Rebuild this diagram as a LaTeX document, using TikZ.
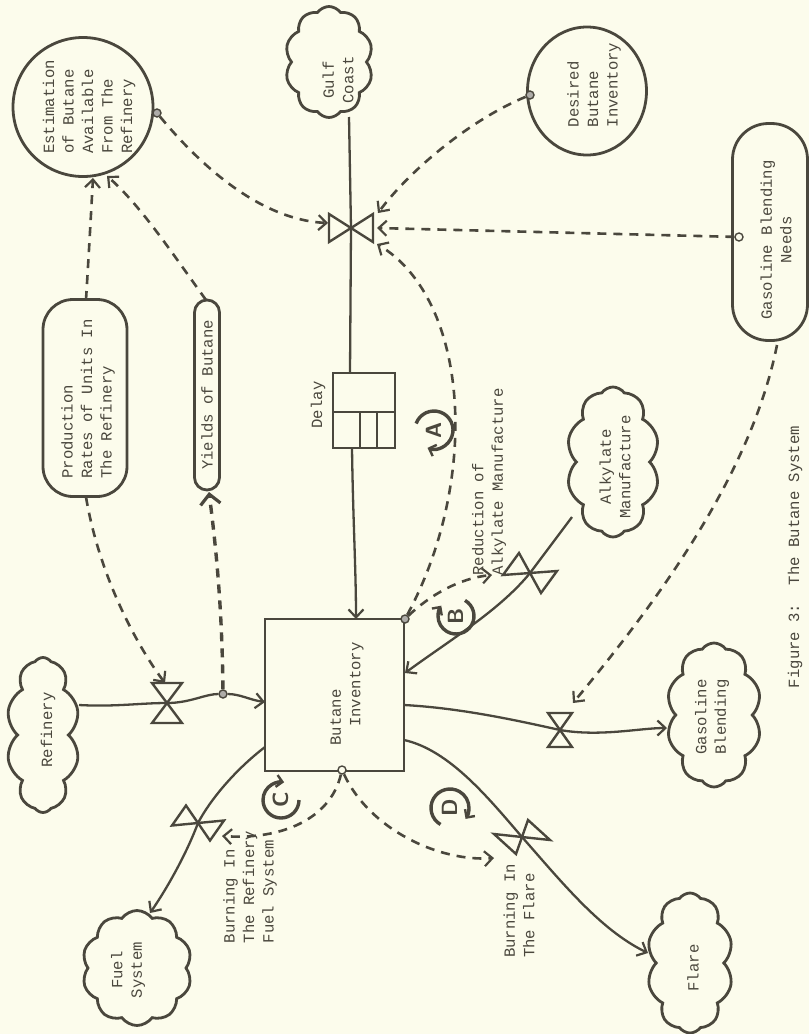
\documentclass[tikz,border=0pt]{standalone}
\usepackage{fontspec}
\setmainfont{Liberation Mono}
\usetikzlibrary{shapes.geometric,shapes.symbols,shapes.misc,arrows.meta,calc}
\definecolor{bg}{HTML}{FCFCEC}
\definecolor{ink}{HTML}{4A473D}
\newcommand\fsz{\fontsize{15.6}{19.5}\selectfont}
\newcommand\vlv[5]{\draw[vlvst] ($(#1)+({(#2)+(#4)},{(#3)+(#5)})$) -- ($(#1)+({(#2)-(#4)},{(#3)-(#5)})$) -- ($(#1)+({-(#2)+(#4)},{-(#3)+(#5)})$) -- ($(#1)+({-(#2)-(#4)},{-(#3)-(#5)})$) -- cycle;}
\begin{document}
\begin{tikzpicture}[x=1pt,y=-1pt,
  flow/.style={draw=ink, line width=2.3pt},
  info/.style={draw=ink, line width=2.6pt, dash pattern=on 9pt off 7pt},
  arr/.style={-{Straight Barb[length=8pt,width=15pt,line width=2.2pt]}},
  txt/.style={rotate=90, font=\fsz, text=ink, inner sep=0pt},
  cloudst/.style={cloud, cloud puffs=10, cloud puff arc=110, cloud ignores aspect, draw=ink, line width=2.8pt, inner sep=0pt},
  ellst/.style={ellipse, draw=ink, line width=2.8pt, inner sep=0pt},
  ovalst/.style={rectangle, draw=ink, line width=2.8pt, inner sep=0pt},
  boxst/.style={rectangle, draw=ink, line width=2pt, inner sep=0pt},
  dotst/.style={circle, draw=ink, fill=ink!45, line width=1.4pt, minimum size=8pt, inner sep=0pt},
  vlvst/.style={draw=ink, line width=2.4pt, line join=miter},
  loopst/.style={draw=ink, line width=3.4pt},
  looplbl/.style={rotate=90, font=\sffamily\bfseries\fontsize{22}{22}\selectfont, text=ink, inner sep=0pt}
]
\fill[bg] (0,0) rectangle (809,1034);
\useasboundingbox (0,0) rectangle (809,1034);

% ---------- auxiliaries / levels ----------
\node[ellst, minimum width=140pt, minimum height=139pt] (est) at (83,107) {};
\node[txt, align=left] (est-t) at (89,107) {Estimation\\of Butane\\Available\\From The\\Refinery};

\node[ellst, minimum width=119pt, minimum height=128pt] (des) at (587,91) {};
\node[txt, align=left] (des-t) at (594,85) {Desired\\Butane\\Inventory};

\node[ovalst, rounded corners=36pt, minimum width=75pt, minimum height=217pt] (gbn) at (770,232) {};
\node[txt, align=center] (gbn-t) at (776,240) {Gasoline Blending\\Needs};

\node[ovalst, rounded corners=12.5pt, minimum width=25pt, minimum height=190pt] (yld) at (207,395) {};
\node[txt] (yld-t) at (207,395) {Yields of Butane};

\node[ovalst, rounded corners=30pt, minimum width=84pt, minimum height=197pt] (prd) at (85,398) {};
\node[txt, align=left] (prd-t) at (88,399) {Production\\Rates of Units In\\The Refinery};

\node[boxst, minimum width=139pt, minimum height=152pt] (bi) at (334.5,695) {};
\node[txt, align=left] (bi-t) at (347,694) {Butane\\\phantom{aa}Inventory};

\node[boxst, minimum width=62pt, minimum height=75pt] (delay) at (364,410.5) {};
\draw[ink, line width=2pt] (333,412) -- (395,412) (360,412) -- (360,448) (377,412) -- (377,448);
\node[txt] (delay-t) at (318,405) {Delay};

% ---------- clouds ----------
\node[cloudst, minimum width=88pt, minimum height=111pt] (gulf) at (329,62) {};
\node[txt, align=center] (gulf-t) at (338,80) {Gulf\\Coast};
\node[cloudst, minimum width=73pt, minimum height=155pt] (ref) at (43,735) {};
\node[txt] (ref-t) at (48,730) {Refinery};
\node[cloudst, minimum width=93pt, minimum height=150pt] (alk) at (613,462) {};
\node[txt, align=center] (alk-t) at (615,467) {Alkylate\\Manufacture};
\node[cloudst, minimum width=95pt, minimum height=144pt] (gbl) at (714,715) {};
\node[txt, align=center] (gbl-t) at (712,717) {Gasoline\\Blending};
\node[cloudst, minimum width=86pt, minimum height=140pt] (flr) at (690,963) {};
\node[txt] (flr-t) at (693,968) {Flare};
\node[cloudst, minimum width=110pt, minimum height=115pt] (fuel) at (137,968) {};
\node[txt, align=center] (fuel-t) at (128,970) {Fuel\\System};

% ---------- labels ----------
\node[txt, align=left] (red-t) at (489,482) {Reduction of\\Alkylate Manufacture};
\node[txt, align=left] (brf-t) at (250,887) {Burning In\\The Refinery\\Fuel System};
\node[txt, align=left] (bfl-t) at (519,911) {Burning In\\The Flare};
\node[txt] (cap) at (795,557) {Figure 3:\ \ The Butane System};

% ---------- valves ----------
\coordinate (v1) at (351,228);
\coordinate (v2) at (167,703);
\coordinate (v3) at (530,573);
\coordinate (v4) at (560,730);
\coordinate (v5) at (522,837);
\coordinate (v6) at (198,823);
\vlv{v1}{22}{0}{0}{14}
\vlv{v2}{0}{20}{15}{0}
\vlv{v3}{-19}{-9}{8}{-11}
\vlv{v4}{0}{17}{12}{0}
\vlv{v5}{17}{-7}{-11}{-10}
\vlv{v6}{-19}{-7.5}{-7}{10}

% ---------- named points ----------
\coordinate (gulf-o) at (349,117);
\coordinate (delay-i) at (350,373);
\coordinate (delay-o) at (352,448);
\coordinate (bi-top) at (356,619);
\coordinate (ref-o) at (79,705);
\coordinate (bi-l1) at (265,702);
\coordinate (bi-l2) at (265,747);
\coordinate (bi-r1) at (405,673);
\coordinate (bi-r2) at (404,705);
\coordinate (bi-r3) at (404,740);
\coordinate (alk-o) at (572,517);
\coordinate (gbl-i) at (667,728);
\coordinate (flr-i) at (648,953);
\coordinate (fuel-i) at (150,913);
\coordinate (est-b1) at (93,178);
\coordinate (est-b2) at (107,176);
\coordinate (prd-top) at (86,300);
\coordinate (prd-bot) at (86,497);
\coordinate (yld-top) at (206,300);
\coordinate (yld-bot) at (209,492);
\coordinate (gbn-bot) at (777,345);

% ---------- dots ----------
\node[dotst] (d-est) at (157,113) {};
\node[dotst] (d-des) at (530,95) {};
\node[dotst, fill=bg] (d-gbn) at (739,237) {};
\node[dotst] (d-ref) at (223,694) {};
\node[dotst] (d-bi1) at (405,619) {};
\node[dotst, fill=bg] (d-bi2) at (342,770) {};

% ---------- flows ----------
\draw[flow] (gulf-o) -- (v1) -- (delay-i);
\draw[flow, arr] (delay-o) .. controls (353,520) and (356,570) .. (bi-top);
\draw[flow] (ref-o) .. controls (115,707) and (140,703) .. (v2) .. controls (190,703) and (205,694) .. (d-ref);
\draw[flow, arr] (d-ref) .. controls (240,694) and (250,700) .. (bi-l1);
\draw[flow, arr] (alk-o) -- (v3) .. controls (500,610) and (450,640) .. (bi-r1);
\draw[flow, arr] (bi-r2) .. controls (460,708) and (515,720) .. (v4) .. controls (600,737) and (640,728) .. (gbl-i);
\draw[flow, arr] (bi-r3) .. controls (450,750) and (490,800) .. (v5) .. controls (560,880) and (600,930) .. (flr-i);
\draw[flow, arr] (bi-l2) .. controls (235,770) and (210,800) .. (v6) .. controls (186,855) and (166,890) .. (fuel-i);

% ---------- information links ----------
\draw[info, arr] (d-est) .. controls (200,165) and (260,220) .. (328,223);
\draw[info, arr] (prd-top) .. controls (89,250) .. (est-b1);
\draw[info, arr] (yld-top) .. controls (170,250) and (140,205) .. (est-b2);
\draw[info, arr] (prd-bot) .. controls (100,580) and (140,650) .. (165,683);
\draw[info, line width=3.4pt, -{Straight Barb[length=10pt,width=20pt,line width=3.2pt]}] (d-ref) .. controls (222,600) and (215,540) .. (yld-bot);
\draw[info, arr] (d-des) .. controls (470,120) and (410,170) .. (378,213);
\draw[info, arr] (d-gbn) -- (377,228);
\draw[info, arr] (d-bi1) .. controls (480,480) and (470,300) .. (377,244);
\draw[info, arr] (d-bi1) .. controls (430,595) and (460,578) .. (492,575);
\draw[info, arr] (gbn-bot) .. controls (750,480) and (650,610) .. (573,703);
\draw[info, arr] (d-bi2) .. controls (330,820) and (280,840) .. (222,836);
\draw[info, arr] (d-bi2) .. controls (370,830) and (440,862) .. (494,858);

% ---------- loop markers ----------
\node[looplbl] (la) at (434,430) {A};
\draw[loopst, -{Straight Barb[length=6pt,width=12pt,line width=2.4pt]}] ([shift={(200:19)}]la.center) arc[start angle=200, end angle=470, radius=19];
\node[looplbl] (lb) at (456,616) {B};
\draw[loopst, -{Straight Barb[length=6pt,width=12pt,line width=2.4pt]}] ([shift={(-60:18)}]lb.center) arc[start angle=-60, end angle=215, radius=18];
\node[looplbl] (lc) at (281,800) {C};
\draw[loopst, -{Straight Barb[length=6pt,width=12pt,line width=2.4pt]}] ([shift={(0:18)}]lc.center) arc[start angle=0, end angle=280, radius=18];
\node[looplbl] (ld) at (450,808) {D};
\draw[loopst, -{Straight Barb[length=6pt,width=12pt,line width=2.4pt]}] ([shift={(120:19)}]ld.center) arc[start angle=120, end angle=395, radius=19];
\end{tikzpicture}
\end{document}
